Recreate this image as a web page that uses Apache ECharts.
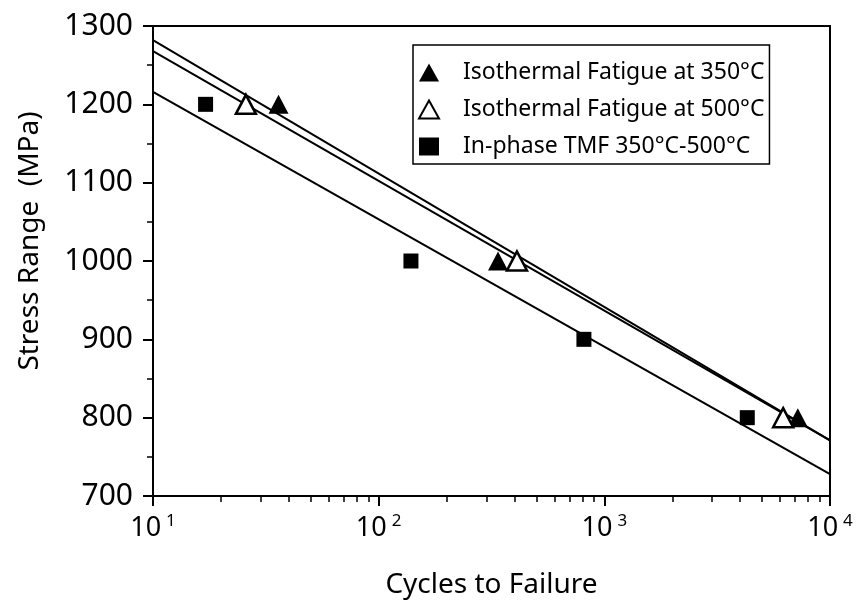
<!DOCTYPE html>
<html>
<head>
<meta charset="utf-8">
<title>chart</title>
<style>
  html, body { margin: 0; padding: 0; background: #fff; }
  #main { width: 865px; height: 604px; }
</style>
</head>
<body>
<div id="main"></div>
<script src="https://cdn.jsdelivr.net/npm/echarts@6/dist/echarts.min.js"></script>
<script>
// measured points: [cycles to failure, stress range MPa]
var iso350 = [[36, 1200], [338, 1000], [7200, 800]];
var iso500 = [[25.8, 1200], [410, 1000], [6200, 800]];
var tmf = [[17.1, 1200], [139, 1000], [812, 900], [4300, 800]];

// fitted lines, read at both ends of the axis
var fit350 = [[10, 1282], [10000, 771]];
var fit500 = [[10, 1268], [10000, 771]];
var fitTmf = [[10, 1216], [10000, 728]];

var names = ['Isothermal Fatigue at 350°C', 'Isothermal Fatigue at 500°C', 'In-phase TMF 350°C-500°C'];
var minorX = [20, 30, 40, 50, 60, 70, 80, 90, 200, 300, 400, 500, 600, 700, 800, 900,
  2000, 3000, 4000, 5000, 6000, 7000, 8000, 9000];

var font = 'Noto Sans';
var chart = echarts.init(document.getElementById('main'));

function fitLine(d) {
  return {
    type: 'line', data: d, symbol: 'none', silent: true,
    lineStyle: { color: '#000', width: 2 }, z: 1
  };
}

chart.setOption({
  backgroundColor: '#fff',
  animation: false,
  textStyle: { fontFamily: font, color: '#000' },
  grid: {
    left: 153, right: 35, top: 26, bottom: 106,
    show: true, borderColor: '#000', borderWidth: 2
  },
  legend: {
    data: names,
    orient: 'vertical',
    left: 413, top: 45,
    itemWidth: 20, itemHeight: 18, itemGap: 14,
    padding: [16, 5, 6, 5],
    borderColor: '#000', borderWidth: 1.5,
    backgroundColor: '#fff',
    textStyle: { fontFamily: font, fontSize: 23, color: '#000', padding: [0, 0, 0, 19] }
  },
  xAxis: [{
    type: 'log', logBase: 10, min: 10, max: 10000,
    name: 'Cycles to Failure', nameLocation: 'middle', nameGap: 75,
    nameTextStyle: { fontSize: 28, color: '#000' },
    axisLine: { lineStyle: { color: '#000', width: 2 } },
    axisTick: { length: 10, lineStyle: { color: '#000', width: 2 } },
    splitLine: { show: false },
    axisLabel: {
      margin: 17, color: '#000',
      formatter: function (v) {
        return '{b|10}{s|' + Math.round(Math.log10(v)) + '}';
      },
      rich: {
        b: { fontSize: 27, fontFamily: font },
        s: { fontSize: 17, fontFamily: font, padding: [0, 0, 14, 5] }
      }
    }
  }, {
    type: 'log', logBase: 10, min: 10, max: 10000, position: 'bottom',
    axisLine: { show: false },
    axisLabel: { show: false },
    splitLine: { show: false },
    axisTick: { customValues: minorX, length: 6, lineStyle: { color: '#000', width: 1.5 } }
  }],
  yAxis: {
    type: 'value', min: 700, max: 1300, interval: 100,
    name: 'Stress Range  (MPa)', nameLocation: 'middle', nameGap: 109,
    nameTextStyle: { fontSize: 28, color: '#000', padding: [0, 0, 0, 40] },
    axisLine: { show: true, lineStyle: { color: '#000', width: 2 } },
    axisTick: { show: true, length: 10, lineStyle: { color: '#000', width: 2 } },
    minorTick: { show: true, splitNumber: 2, length: 6, lineStyle: { color: '#000', width: 1.5 } },
    splitLine: { show: false },
    axisLabel: {
      margin: 20, fontSize: 30, color: '#000',
      formatter: function (v) { return String(v); }
    }
  },
  series: [
    fitLine(fit350), fitLine(fit500), fitLine(fitTmf),
    {
      name: names[0], type: 'scatter', data: iso350, symbol: 'triangle', symbolSize: [20, 19],
      itemStyle: { color: '#000', opacity: 1 }, z: 3
    },
    {
      name: names[1], type: 'scatter', data: iso500, symbol: 'triangle', symbolSize: [20, 19],
      itemStyle: { color: '#fff', borderColor: '#000', borderWidth: 2.5, opacity: 1 }, z: 3
    },
    {
      name: names[2], type: 'scatter', data: tmf, symbol: 'rect', symbolSize: 15,
      itemStyle: { color: '#000', opacity: 1 }, z: 3
    }
  ]
});
</script>
</body>
</html>
